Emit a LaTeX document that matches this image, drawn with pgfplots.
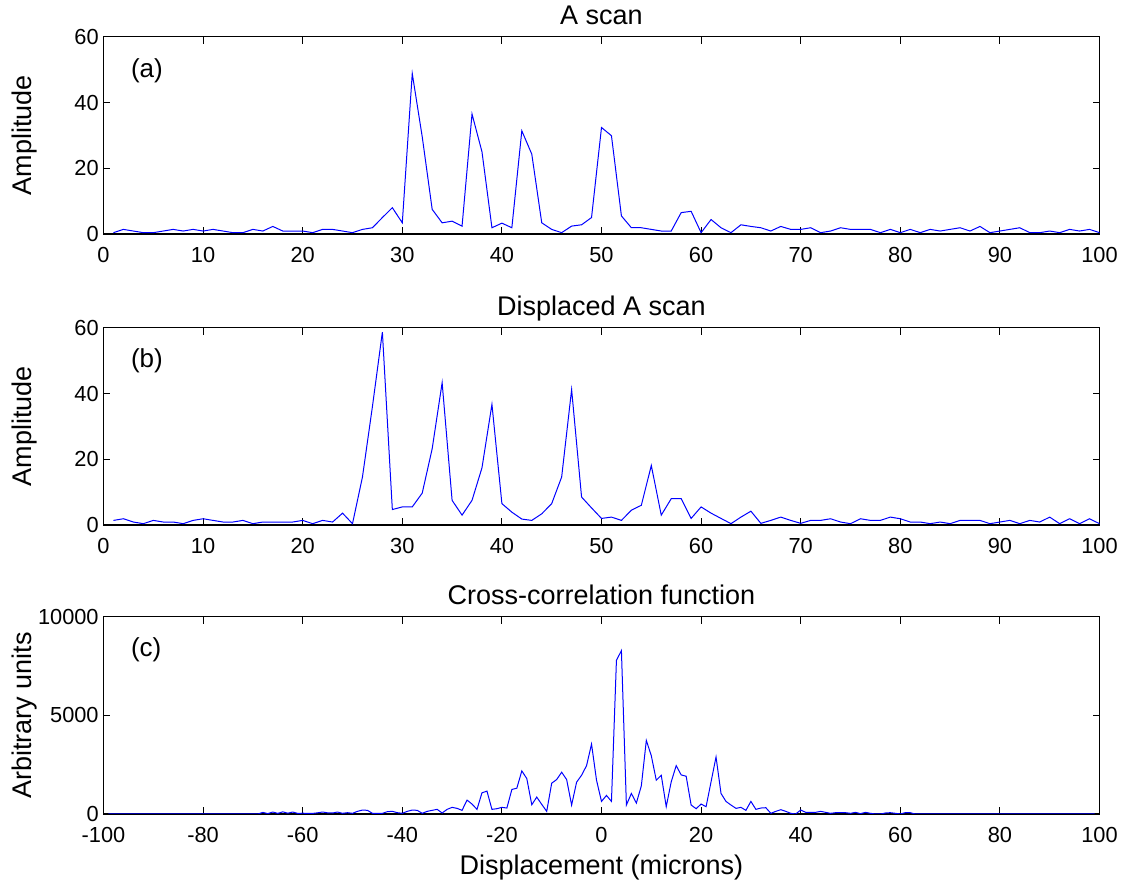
\documentclass[border=0pt]{standalone}
\usepackage{fontspec}
\setmainfont{Liberation Sans}
\usepackage{pgfplots}
\pgfplotsset{compat=1.18}

\pgfplotsset{
  every axis title shift=0pt,
  panel/.style={
    scale only axis,
    width=498pt, height=98.6pt,
    axis line style={line width=0.6pt},
    major tick length=3.5pt,
    tick style={black, line width=0.5pt},
    tick align=inside,
    every tick label/.append style={font=\fontsize{10.9}{13}\selectfont},
    xticklabel style={anchor=base, yshift=-14.3pt},
    yticklabel style={anchor=east, xshift=1.1pt},
    label style={font=\fontsize{13.5}{16}\selectfont, inner sep=0pt},
    title style={font=\fontsize{13.5}{16}\selectfont, inner sep=0pt,
      at={(axis description cs:0.5,1)}, anchor=base, yshift=6.3pt},
    xlabel style={at={(axis description cs:0.5,0)}, anchor=base, yshift=-30.5pt},
    ylabel style={at={(axis description cs:-0.0718,0.5)}, anchor=base},
    /pgf/number format/assume math mode=true,
    /pgf/number format/1000 sep={},
    scaled ticks=false,
  },
  trace/.style={blue, line width=0.5pt, no markers},
}
\tikzset{tag/.style={anchor=west, inner sep=0pt, font=\fontsize{13}{15}\selectfont}}

\begin{document}
\begin{tikzpicture}

% (a) A scan
\begin{axis}[panel, at={(0,0)}, anchor=south west,
  xmin=0, xmax=100, ymin=0, ymax=60,
  xtick={0,10,...,100}, ytick={0,20,40,60},
  title={A scan}, ylabel={Amplitude}]
\addplot[trace] table {
x y
1 0.4
2 1.4
3 0.9
4 0.4
5 0.4
6 0.9
7 1.4
8 0.9
9 1.4
10 0.9
11 1.4
12 0.9
13 0.4
14 0.4
15 1.4
16 0.9
17 2.3
18 0.9
19 0.9
20 0.9
21 0.4
22 1.4
23 1.4
24 0.9
25 0.4
26 1.4
27 1.9
28 5.0
29 8.0
30 3.4
31 48.8
32 29.6
33 7.5
34 3.4
35 3.9
36 2.4
37 36.5
38 25.0
39 1.9
40 3.3
41 1.9
42 31.4
43 24.3
44 3.4
45 1.4
46 0.4
47 2.4
48 2.8
49 5.0
50 32.4
51 29.9
52 5.5
53 1.9
54 1.9
55 1.4
56 0.9
57 0.9
58 6.5
59 6.9
60 0.4
61 4.4
62 1.9
63 0.4
64 2.8
65 2.3
66 1.9
67 0.9
68 2.3
69 1.4
70 1.4
71 1.9
72 0.4
73 0.9
74 1.9
75 1.4
76 1.4
77 1.4
78 0.4
79 1.4
80 0.4
81 1.4
82 0.4
83 1.4
84 0.9
85 1.4
86 1.9
87 0.9
88 2.3
89 0.4
90 0.9
91 1.4
92 1.9
93 0.4
94 0.4
95 0.9
96 0.4
97 1.4
98 0.9
99 1.4
100 0.4
};
\node[tag] at (axis cs:2.73,49.7) {(a)};
\end{axis}

% (b) displaced A scan
\begin{axis}[panel, at={(0,-145.5pt)}, anchor=south west,
  xmin=0, xmax=100, ymin=0, ymax=60,
  xtick={0,10,...,100}, ytick={0,20,40,60},
  title={Displaced A scan}, ylabel={Amplitude}]
\addplot[trace] table {
x y
1 1.4
2 1.9
3 0.9
4 0.4
5 1.4
6 0.9
7 0.9
8 0.4
9 1.4
10 1.9
11 1.4
12 0.9
13 0.9
14 1.4
15 0.4
16 0.9
17 0.9
18 0.9
19 0.9
20 1.4
21 0.4
22 1.4
23 0.9
24 3.6
25 0.4
26 14.6
27 36.0
28 58.7
29 4.7
30 5.5
31 5.5
32 9.7
33 23.2
34 43.3
35 7.5
36 3.0
37 7.5
38 17.4
39 36.7
40 6.5
41 3.9
42 1.8
43 1.4
44 3.4
45 6.5
46 14.6
47 41.2
48 8.5
49 5.2
50 2.0
51 2.4
52 1.4
53 4.5
54 6.0
55 18.1
56 3.0
57 8.0
58 8.0
59 2.0
60 5.5
61 3.6
62 2.0
63 0.4
64 2.4
65 4.2
66 0.5
67 1.4
68 2.4
69 1.4
70 0.5
71 1.4
72 1.4
73 1.9
74 0.9
75 0.4
76 1.9
77 1.4
78 1.4
79 2.4
80 1.9
81 0.9
82 0.9
83 0.4
84 0.9
85 0.4
86 1.4
87 1.4
88 1.4
89 0.4
90 0.9
91 1.4
92 0.4
93 1.4
94 0.9
95 2.4
96 0.4
97 1.9
98 0.4
99 1.9
100 0.4
};
\node[tag] at (axis cs:2.73,50) {(b)};
\end{axis}

% (c) cross-correlation
\begin{axis}[panel, at={(0,-290pt)}, anchor=south west,
  xmin=-100, xmax=100, ymin=0, ymax=10000,
  xtick={-100,-80,...,100}, ytick={0,5000,10000},
  title={Cross-correlation function}, ylabel={Arbitrary units},
  xlabel={Displacement (microns)}]
\addplot[trace] table {
x y
-99 0
-98 0
-97 0
-96 0
-95 0
-94 0
-93 0
-92 0
-91 0
-90 0
-89 0
-88 0
-87 0
-86 0
-85 0
-84 0
-83 0
-82 0
-81 0
-80 0
-79 0
-78 0
-77 0
-76 0
-75 0
-74 0
-73 0
-72 0
-71 0
-70 0
-69 0
-68 80
-67 20
-66 100
-65 30
-64 110
-63 40
-62 100
-61 30
-60 40
-59 30
-58 30
-57 60
-56 100
-55 60
-54 50
-53 100
-52 34
-51 67
-50 34
-49 134
-48 200
-47 185
-46 34
-45 34
-44 34
-43 118
-42 134
-41 67
-40 34
-39 134
-38 200
-37 185
-36 34
-35 134
-34 185
-33 235
-32 50
-31 235
-30 336
-29 286
-28 185
-27 706
-26 504
-25 235
-24 1075
-23 1160
-22 235
-21 269
-20 336
-19 302
-18 1243
-17 1310
-16 2184
-15 1798
-14 470
-13 857
-12 487
-11 134
-10 1562
-9 1747
-8 2117
-7 1747
-6 454
-5 1613
-4 1966
-3 2453
-2 3545
-1 1714
0 638
1 941
2 638
3 7795
4 8282
5 454
6 1042
7 554
8 1428
9 3730
10 2957
11 1714
12 1966
13 370
14 1630
15 2453
16 1982
17 1915
18 454
19 269
20 504
21 370
22 1630
23 2890
24 1042
25 638
26 454
27 286
28 336
29 185
30 638
31 235
32 302
33 319
34 34
35 134
36 218
37 134
38 34
39 0
40 202
41 84
42 84
43 84
44 134
45 84
46 34
47 67
48 67
49 67
50 34
51 84
52 17
53 84
54 34
55 0
56 0
57 50
58 67
59 34
60 0
61 67
62 67
63 0
64 0
65 0
66 0
67 0
68 0
69 0
70 0
71 0
72 0
73 0
74 0
75 0
76 0
77 0
78 0
79 0
80 0
81 0
82 0
83 0
84 0
85 0
86 0
87 0
88 0
89 0
90 0
91 0
92 0
93 0
94 0
95 0
96 0
97 0
98 0
99 0
};
\node[tag] at (axis cs:-94.54,8320) {(c)};
\end{axis}

\path (-51.75pt,-326pt) rectangle (513.75pt,117pt);
\end{tikzpicture}
\end{document}
